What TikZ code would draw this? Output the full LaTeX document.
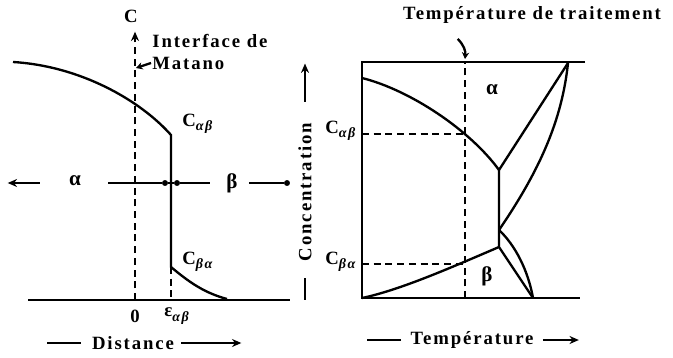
\documentclass[tikz,border=0pt]{standalone}
\usepackage{fontspec}
\setmainfont[LetterSpace=10]{Liberation Serif}
\usetikzlibrary{arrows,arrows.meta,positioning,calc}
\tikzstyle{dot} = [fill=black,inner sep=0mm,circle,draw,minimum size=1.6mm]
\tikzstyle{lbl} = [font=\bfseries\fontsize{16}{18}\selectfont,inner sep=1pt]
\tikzstyle{sym} = [font=\bfseries\fontsize{18}{20}\selectfont,inner sep=1pt]
\tikzstyle{line} = [line width=2pt]
\tikzstyle{guide} = [line width=1.6pt,dash pattern=on 6pt off 4pt]
\tikzstyle{arr} = [-{Stealth[length=2.8mm,width=2.4mm]}]
\newcommand{\lowidx}[1]{\raisebox{-.5ex}{\itshape\fontsize{12}{12}\selectfont #1}}

\begin{document}
\begin{tikzpicture}[x=0.03cm,y=-0.03cm]
        \useasboundingbox (0,0) rectangle (673,357);

        % profil de concentration
        \coordinate (b0) at (28,300);
        \coordinate (b1) at (290,300);
        \coordinate (z0) at (135,300);
        \coordinate (e0) at (171,300);
        \coordinate (cab) at (171,135);
        \coordinate (cba) at (171,267);
        \draw[line] (b0) -- (b1);
        \draw[line] (13,62) .. controls (80,66) and (140,100) .. (cab) -- (cba)
                .. controls (190,283) and (205,293) .. (227,299);

        \node[lbl] (ct) at (131,16) {C};
        \draw[guide,arr] (z0) -- ($(z0 |- ct.south)+(0,8)$);
        \draw[guide] (cba) -- (e0);

        \node[lbl,anchor=west] (inter) at (151,41) {Interface de};
        \node[lbl,anchor=west] (mat) at (151,63) {Matano};
        \draw[line,-{Stealth[length=2mm,width=2.2mm]}] (mat.west) -- (136,68);

        \node[lbl,anchor=west] (lcab) at (181,124) {C\lowidx{αβ}};
        \node[lbl,anchor=west] (lcba) at (181,262) {C\lowidx{βα}};

        \node[sym] (la) at (75,181) {α};
        \node[sym] (lb) at (232,183) {β};
        \draw[line,arr] ($(la.west)+(-28,2)$) -- ($(la.west)+(-60,2)$);
        \node[dot] (d1) at (165,183) {};
        \node[dot] (d2) at (177,183) {};
        \draw[line] (108,183) -- (d1) -- (d2) -- (210,183);
        \node[dot] (d3) at (287,183) {};
        \draw[line] ($(lb.east)+(10,0)$) -- (d3);

        \node[lbl] (n0) at (z0 |- 0,316) {0};
        \node[lbl,anchor=west] (eps) at (163,316) {ε\lowidx{αβ}};

        \node[lbl] (dist) at (133,343) {Distance};
        \draw[line] ($(dist.west)+(-10,0)$) -- ($(dist.west)+(-44,0)$);
        \draw[line,arr] ($(dist.east)+(6,0)$) -- ($(dist.east)+(66,0)$);

        % diagramme de phases
        \coordinate (tl) at (362,62);
        \coordinate (tr) at (585,62);
        \coordinate (bl) at (362,298);
        \coordinate (br) at (580,298);
        \coordinate (tx) at (465,62);
        \coordinate (bx) at (465,298);
        \coordinate (v) at (499,170);
        \coordinate (k) at (568,63);
        \coordinate (m) at (499,230);
        \coordinate (q) at (499,247);
        \coordinate (f) at (533,298);
        \draw[line] (tr) -- (tl) -- (bl) -- (br);
        \draw[line] (362,78) .. controls (410,90) and (470,130) .. (v) -- (k);
        \draw[line] (k) .. controls (562,120) and (540,170) .. (m);
        \draw[line] (v) -- (q) -- (f);
        \draw[line] (m) .. controls (515,245) and (528,270) .. (f);
        \draw[line] (bl) .. controls (400,290) and (450,268) .. (q);

        \draw[guide] (bx) -- (tx);
        \draw[guide] (362,134) -- (465,134);
        \draw[guide] (362,264) -- (465,264);

        \node[lbl] (tt) at (532,15) {Température de traitement};
        \draw[line,-{Stealth[length=2mm,width=2.2mm]}] ($(tt.south west)+(56,14)$) to[bend left=25] ($(tx)+(0,-3)$);

        \node[lbl,anchor=west] (rcab) at (324,131) {C\lowidx{αβ}};
        \node[lbl,anchor=west] (rcba) at (324,262) {C\lowidx{βα}};
        \node[sym] (ra) at (492,90) {α};
        \node[sym] (rb) at (487,276) {β};

        \node[lbl,rotate=90] (conc) at (305,192) {Concentration};
        \draw[line,arr] ($(conc.east)+(0,-20)$) -- ($(conc.east)+(0,-58)$);
        \draw[line] ($(conc.west)+(0,16)$) -- ($(conc.west)+(0,38)$);

        \node[lbl] (temp) at (472,340) {Température};
        \draw[line] ($(temp.west)+(-8,0)$) -- ($(temp.west)+(-42,0)$);
        \draw[line,arr] ($(temp.east)+(8,0)$) -- ($(temp.east)+(44,0)$);
\end{tikzpicture}
\end{document}
